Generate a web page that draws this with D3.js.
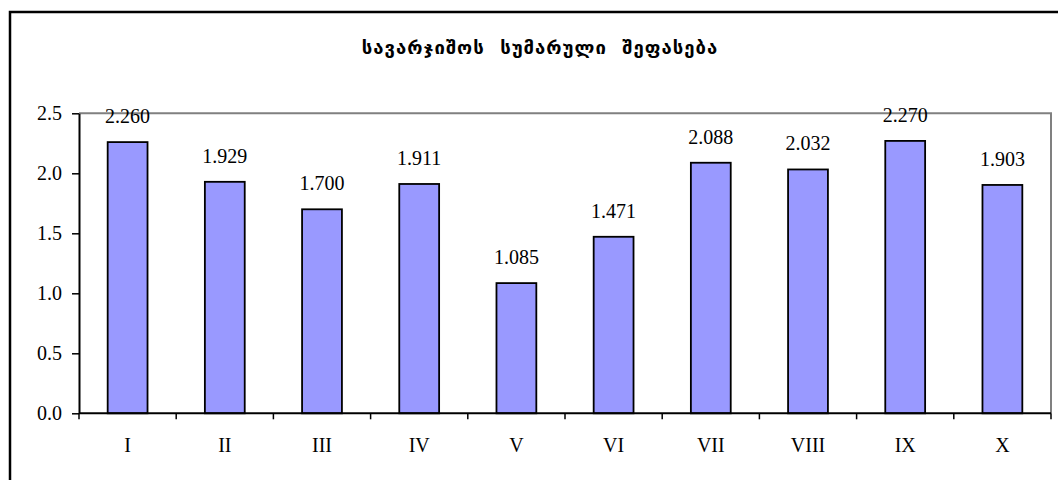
<!DOCTYPE html>
<html>
<head>
<meta charset="utf-8">
<script src="https://cdn.jsdelivr.net/npm/d3@7"></script>
<style>
  body { margin: 0; background: #fff; }
  svg text { font-family: "Liberation Serif", "Times New Roman", serif; fill: #000; }
</style>
</head>
<body>
<div id="chart"></div>
<script>
// data
let categories = ["I", "II", "III", "IV", "V", "VI", "VII", "VIII", "IX", "X"];
let values = [2.260, 1.929, 1.700, 1.911, 1.085, 1.471, 2.088, 2.032, 2.270, 1.903];
let yTicks = [0.0, 0.5, 1.0, 1.5, 2.0, 2.5];
let title = "სავარჯიშოს სუმარული შეფასება";

let width = 1058;
let height = 480;
// plot area
let plotLeft = 79;
let plotRight = 1051;
let plotTop = 113.3;
let plotBottom = 413.3;
let fontSize = "20px";

let svg = d3.select("#chart")
    .append("svg")
    .attr("width", width)
    .attr("height", height);

// outer frame (top + left only visible)
svg.append("path")
    .attr("d", "M10," + height + "V12H" + width)
    .attr("fill", "none")
    .attr("stroke", "#000")
    .attr("stroke-width", 2.5);

// title
svg.append("text")
    .attr("x", 540)
    .attr("y", 54)
    .attr("text-anchor", "middle")
    .style("font-family", "'DejaVu Sans', sans-serif")
    .style("font-weight", "bold")
    .style("font-size", "18.5px")
    .style("letter-spacing", "1px")
    .style("word-spacing", "8px")
    .text(title);

let xScale = d3.scaleBand()
    .domain(categories)
    .range([plotLeft, plotRight])
    .paddingInner(0.59)
    .paddingOuter(0.295);

let xBand = d3.scaleBand()
    .domain(categories)
    .range([plotLeft, plotRight]);

let yScale = d3.scaleLinear()
    .domain([0, 2.5])
    .range([plotBottom, plotTop]);

// plot area border (top + right, gray)
svg.append("path")
    .attr("d", "M" + plotLeft + "," + plotTop + "H" + plotRight + "V" + plotBottom)
    .attr("fill", "none")
    .attr("stroke", "#808080")
    .attr("stroke-width", 2);

// bars
svg.selectAll(".bar")
    .data(values)
    .enter()
    .append("rect")
    .attr("class", "bar")
    .attr("x", function(d, i) { return xScale(categories[i]); })
    .attr("y", function(d) { return yScale(d); })
    .attr("width", xScale.bandwidth())
    .attr("height", function(d) { return plotBottom - yScale(d); })
    .attr("fill", "#9999ff")
    .attr("stroke", "#000")
    .attr("stroke-width", 1.8);

// value labels
svg.selectAll(".vlabel")
    .data(values)
    .enter()
    .append("text")
    .attr("class", "vlabel")
    .attr("x", function(d, i) { return xScale(categories[i]) + xScale.bandwidth() / 2; })
    .attr("y", function(d) { return yScale(d) - 19; })
    .attr("text-anchor", "middle")
    .style("font-size", fontSize)
    .text(function(d) { return d.toFixed(3); });

// y axis
let yAxis = d3.axisLeft(yScale)
    .tickValues(yTicks)
    .tickFormat(d3.format(".1f"))
    .tickSizeInner(7)
    .tickSizeOuter(0)
    .tickPadding(10);

let gy = svg.append("g")
    .attr("transform", "translate(" + plotLeft + ",0)")
    .call(yAxis);
gy.select(".domain").attr("stroke", "#000").attr("stroke-width", 2);
gy.selectAll(".tick line").attr("stroke", "#000").attr("stroke-width", 1.5);
gy.selectAll(".tick text").style("font-size", fontSize).style("font-family", "'Liberation Serif', serif");

// x axis: ticks between categories
let boundaries = categories.map(function(c) { return xBand(c); }).concat([plotRight]);
let gx = svg.append("g");
gx.append("line")
    .attr("x1", plotLeft).attr("x2", plotRight)
    .attr("y1", plotBottom).attr("y2", plotBottom)
    .attr("stroke", "#000")
    .attr("stroke-width", 2);
gx.selectAll(".xtick")
    .data(boundaries)
    .enter()
    .append("line")
    .attr("class", "xtick")
    .attr("x1", function(d) { return d; })
    .attr("x2", function(d) { return d; })
    .attr("y1", plotBottom)
    .attr("y2", plotBottom + 6)
    .attr("stroke", "#000")
    .attr("stroke-width", 1.5);
gx.selectAll(".xlabel")
    .data(categories)
    .enter()
    .append("text")
    .attr("class", "xlabel")
    .attr("x", function(d) { return xBand(d) + xBand.bandwidth() / 2; })
    .attr("y", plotBottom + 39)
    .attr("text-anchor", "middle")
    .style("font-size", fontSize)
    .text(function(d) { return d; });
</script>
</body>
</html>
